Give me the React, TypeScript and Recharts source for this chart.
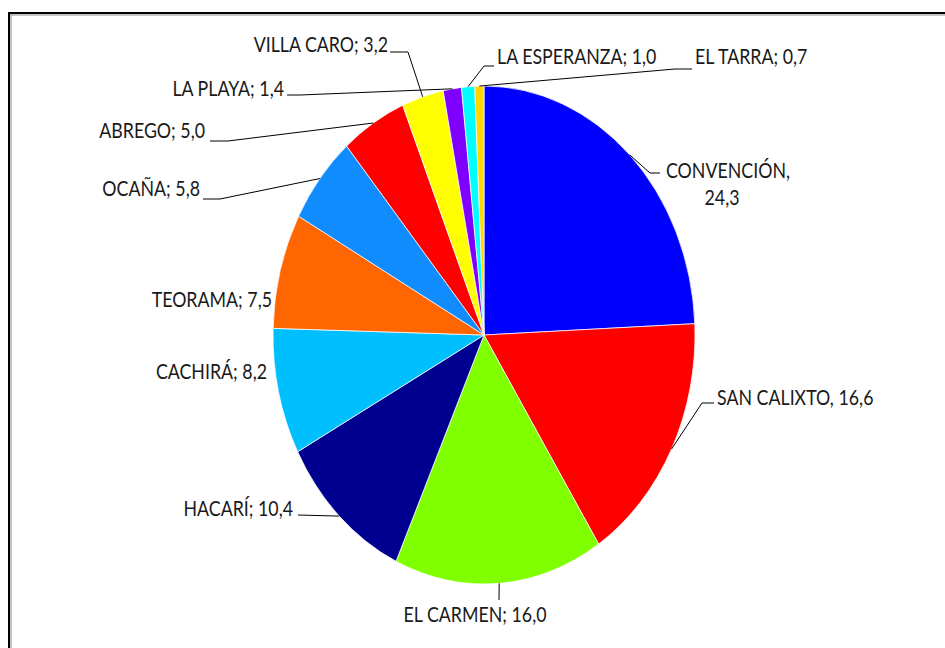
import React from 'react';
import { PieChart, Pie, Cell } from 'recharts';

// municipios y participación (%), en el orden de las agujas del reloj desde las 12
const municipios = ['CONVENCIÓN', 'SAN CALIXTO', 'EL CARMEN', 'HACARÍ', 'CACHIRÁ', 'TEORAMA', 'OCAÑA', 'ABREGO', 'VILLA CARO', 'LA PLAYA', 'LA ESPERANZA', 'EL TARRA'];
const porcentajes = [24.3, 16.6, 16.0, 10.4, 8.2, 7.5, 5.8, 5.0, 3.2, 1.4, 1.0, 0.7];
const separadores = [',', ',', ';', ';', ';', ';', ';', ';', ';', ';', ';', ';'];
const colores = ['#0000ff', '#ff0000', '#80ff00', '#000090', '#00bfff', '#ff6600', '#108cff', '#ff0000', '#ffff00', '#8000ff', '#00ffff', '#ffd700'];

const data = municipios.map((name, i) => ({ name, value: porcentajes[i] }));

// el gráfico original está achatado horizontalmente
const CX = 484;
const CY = 335;
const R = 249;
const SX = 211 / 249;

// ubicación de cada rótulo y el quiebre de su línea guía
const etiquetas: { x: number; y: number; anchor: 'start' | 'middle' | 'end'; linea: number[][] }[] = [
  { x: 728, y: 171, anchor: 'middle', linea: [[660, 173], [650, 173]] },
  { x: 717, y: 398, anchor: 'start', linea: [[714, 403], [702, 403]] },
  { x: 475, y: 615, anchor: 'middle', linea: [[499, 600]] },
  { x: 293, y: 509, anchor: 'end', linea: [[298, 515]] },
  { x: 267, y: 372, anchor: 'end', linea: [] },
  { x: 272, y: 300, anchor: 'end', linea: [] },
  { x: 200, y: 189, anchor: 'end', linea: [[203, 199], [220, 199]] },
  { x: 205, y: 131, anchor: 'end', linea: [[210, 141], [228, 141]] },
  { x: 388, y: 45, anchor: 'end', linea: [[390, 52], [408, 52]] },
  { x: 284, y: 89, anchor: 'end', linea: [[287, 95], [300, 95]] },
  { x: 497, y: 57, anchor: 'start', linea: [[494, 66], [484, 66]] },
  { x: 695, y: 57, anchor: 'start', linea: [[692, 69], [675, 69]] }
];

const fmt = (v: number) => v.toFixed(1).replace('.', ',');
const FS = 21;

const renderLabel = (props: any) => {
  const { cx, cy, midAngle, outerRadius, index, name, value } = props;
  const et = etiquetas[index];
  const rad = -midAngle * Math.PI / 180;
  const ex = cx + outerRadius * SX * Math.cos(rad);
  const ey = cy + outerRadius * Math.sin(rad);
  const pts = et.linea.length ? [...et.linea, [ex, ey]] : [];
  const sep = separadores[index];
  const textProps = {
    textAnchor: et.anchor,
    fontFamily: 'Lato, "Open Sans", sans-serif',
    fontSize: FS,
    fill: '#1a1a1a'
  };
  return <g key={`lbl-${index}`}>
      {pts.length > 0 && <polyline points={pts.map(p => p.join(',')).join(' ')} fill="none" stroke="#000" strokeWidth={1} />}
      {index === 0 ? <>
          <text {...textProps} transform={`translate(${et.x},${et.y + FS * 0.35}) scale(${SX},1)`}>{name}{sep}</text>
          <text {...textProps} transform={`translate(${et.x - 6},${et.y + 27 + FS * 0.35}) scale(${SX},1)`}>{fmt(value)}</text>
        </> : <text {...textProps} transform={`translate(${et.x},${et.y + FS * 0.35}) scale(${SX},1)`}>
          {name}{sep} {fmt(value)}
        </text>}
    </g>;
};

export default function App() {
  return <div style={{ position: 'absolute', left: 0, top: 0, width: 945, height: 648, background: '#fff' }}>
      <style>{`.recharts-pie-sector { transform: scaleX(${SX}); transform-origin: ${CX}px ${CY}px; }`}</style>
      <svg width={945} height={648} style={{ position: 'absolute', left: 0, top: 0 }}>
        <line x1={8} y1={13} x2={945} y2={13} stroke="#000" strokeWidth={2} />
        <line x1={9} y1={12} x2={9} y2={648} stroke="#000" strokeWidth={2} />
        <line x1={10} y1={15} x2={945} y2={15} stroke="#b0b0b0" strokeWidth={1.5} />
        <line x1={11} y1={14} x2={11} y2={648} stroke="#b0b0b0" strokeWidth={1.5} />
      </svg>
      <div style={{ position: 'absolute', left: 0, top: 0 }}>
        <PieChart width={945} height={648} margin={{ top: 0, right: 0, bottom: 0, left: 0 }}>
          <Pie data={data} dataKey="value" nameKey="name" cx={CX} cy={CY} outerRadius={R} startAngle={90} endAngle={-270} stroke="#ffffff" strokeWidth={0.8} label={renderLabel} labelLine={false} isAnimationActive={false}>
            {data.map((d, i) => <Cell key={d.name} fill={colores[i]} />)}
          </Pie>
        </PieChart>
      </div>
    </div>;
}
